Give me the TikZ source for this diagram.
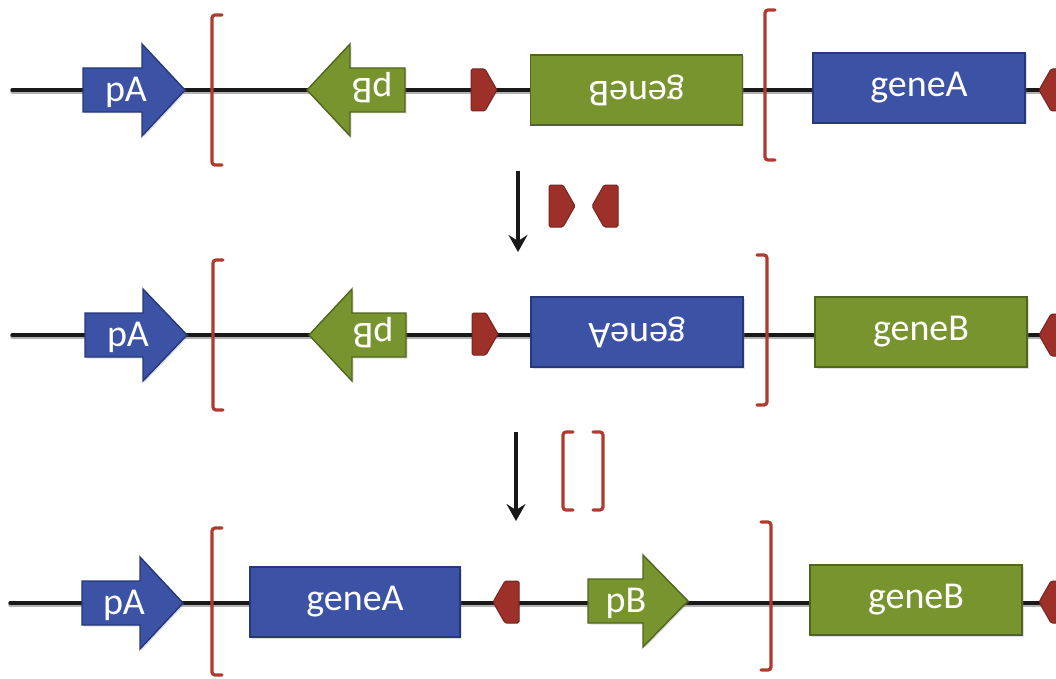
\documentclass[tikz,border=0pt]{standalone}
\usepackage{fontspec}
\setmainfont{Carlito}
\usetikzlibrary{arrows.meta,shadows}
\definecolor{blueF}{RGB}{60,82,164}
\definecolor{blueD}{RGB}{38,56,122}
\definecolor{greenF}{RGB}{120,148,46}
\definecolor{greenD}{RGB}{80,102,30}
\definecolor{redF}{RGB}{158,48,42}
\definecolor{redD}{RGB}{118,34,28}
\definecolor{brk}{RGB}{176,58,48}
\tikzset{
  backbone/.style={line width=3.4pt, black!90, line cap=round},
  bbshadow/.style={line width=3.4pt, black!30, line cap=round},
  bluepart/.style={fill=blueF, draw=blueD, line width=1.4pt, drop shadow={opacity=0.25,shadow xshift=1.5pt,shadow yshift=-1.5pt}},
  greenpart/.style={fill=greenF, draw=greenD, line width=1.4pt, drop shadow={opacity=0.25,shadow xshift=1.5pt,shadow yshift=-1.5pt}},
  genebox/.style={rectangle, minimum width=212pt, minimum height=70pt, inner sep=0pt, text=white, font=\fontsize{38}{38}\selectfont},
  lbl/.style={text=white, font=\fontsize{38}{38}\selectfont, inner sep=0pt},
  site/.style={fill=redF, draw=redD, line width=1pt, rounded corners=1.5pt},
  bracketline/.style={draw=brk, line width=3.2pt, rounded corners=3pt, line cap=round},
  steparrow/.style={line width=3.4pt, black!90, -{Stealth[length=17pt,width=19pt,inset=6pt]}},
}
% promoter pointing right: body left, head base, tip, y, style
\newcommand\promR[5]{\path[#5] (#1,#4-22) -- (#2,#4-22) -- (#2,#4-46) -- (#3,#4) -- (#2,#4+46) -- (#2,#4+22) -- (#1,#4+22) -- cycle;}
% promoter pointing left: body right, head base, tip, y, style
\newcommand\promL[5]{\path[#5] (#1,#4-22) -- (#2,#4-22) -- (#2,#4-46) -- (#3,#4) -- (#2,#4+46) -- (#2,#4+22) -- (#1,#4+22) -- cycle;}
% recombination site pointing right: centre x, y
\newcommand\siteR[2]{\path[site] (#1-13,#2-21) -- (#1+1,#2-21) -- (#1+13,#2) -- (#1+1,#2+21) -- (#1-13,#2+21) -- cycle;}
\newcommand\siteL[2]{\path[site] (#1+13,#2-21) -- (#1-1,#2-21) -- (#1-13,#2) -- (#1-1,#2+21) -- (#1+13,#2+21) -- cycle;}
% brackets: x, top y, bottom y
\newcommand\brkOpen[3]{\path[bracketline] (#1+10,#2) -- (#1,#2) -- (#1,#3) -- (#1+10,#3);}
\newcommand\brkClose[3]{\path[bracketline] (#1-10,#2) -- (#1,#2) -- (#1,#3) -- (#1-10,#3);}
\begin{document}
\begin{tikzpicture}[x=1pt,y=-1pt]
\useasboundingbox (0,0) rectangle (1056,679);
% ---------- row 1 ----------
\coordinate (r1s) at (12,90);
\coordinate (r1e) at (1060,90);
\draw[bbshadow] ([yshift=-2pt]r1s) -- ([yshift=-2pt]r1e);
\draw[backbone] (r1s) -- (r1e);
\promR{83}{142}{185}{90}{bluepart}
\node[lbl] (pA1) at (126,92) {pA};
\brkOpen{212}{15}{165}
\promL{405}{350}{307}{90}{greenpart}
\node[lbl, rotate=180] (pB1) at (372,88) {pB};
\siteR{484}{90}
\node[genebox, greenpart] (gB1) at (636.5,90) {\rotatebox{180}{geneB}};
\brkOpen{765}{10}{160}
\node[genebox, bluepart] (gA1) at (919,88) {geneA};
\siteL{1052}{90}
% ---------- step 1 ----------
\coordinate (a1s) at (518,171);
\coordinate (a1e) at (518,252);
\draw[steparrow] (a1s) -- (a1e);
\siteR{562}{206}
\siteL{605}{206}
% ---------- row 2 ----------
\coordinate (r2s) at (12,335);
\coordinate (r2e) at (1060,335);
\draw[bbshadow] ([yshift=-2pt]r2s) -- ([yshift=-2pt]r2e);
\draw[backbone] (r2s) -- (r2e);
\promR{85}{143}{187}{335}{bluepart}
\node[lbl] (pA2) at (128,337) {pA};
\brkOpen{213}{260}{410}
\promL{406}{352}{309}{335}{greenpart}
\node[lbl, rotate=180] (pB2) at (373,333) {pB};
\siteR{485}{334}
\node[genebox, bluepart] (gA2) at (637,332) {\rotatebox{180}{geneA}};
\brkClose{767}{255}{405}
\node[genebox, greenpart] (gB2) at (921,332) {geneB};
\siteL{1052}{335}
% ---------- step 2 ----------
\coordinate (a2s) at (516,432);
\coordinate (a2e) at (516,521);
\draw[steparrow] (a2s) -- (a2e);
\brkOpen{563}{432}{510}
\brkClose{603}{432}{510}
% ---------- row 3 ----------
\coordinate (r3s) at (10,603);
\coordinate (r3e) at (1060,603);
\draw[bbshadow] ([yshift=-2pt]r3s) -- ([yshift=-2pt]r3e);
\draw[backbone] (r3s) -- (r3e);
\promR{82}{140}{183}{603}{bluepart}
\node[lbl] (pA3) at (124,605) {pA};
\brkOpen{212}{528}{675}
\node[genebox, bluepart, minimum width=210pt] (gA3) at (355,602) {geneA};
\siteL{506}{602}
\promR{588}{643}{688}{601}{greenpart}
\node[lbl] (pB3) at (626,603) {pB};
\brkClose{771}{522}{670}
\node[genebox, greenpart] (gB3) at (916,600) {geneB};
\siteL{1052}{602}
\end{tikzpicture}
\end{document}
